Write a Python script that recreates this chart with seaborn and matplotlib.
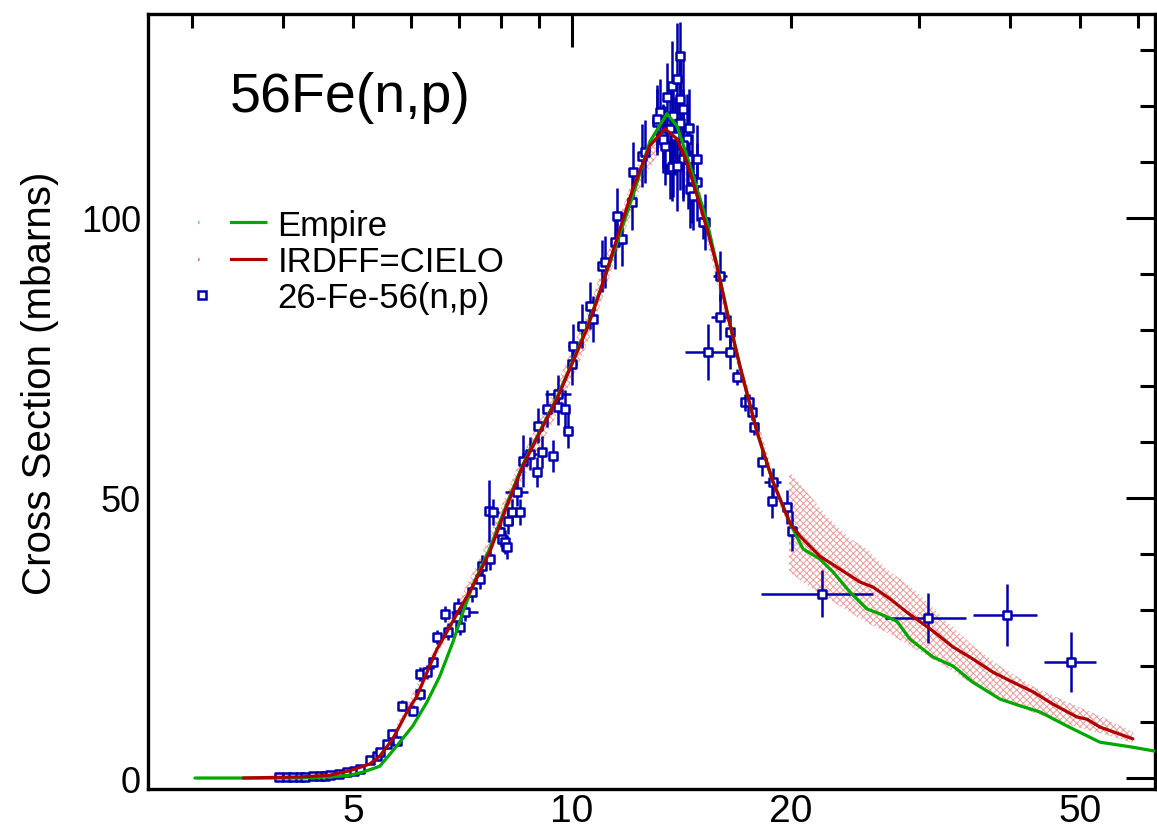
import numpy as np
import pandas as pd
import matplotlib
matplotlib.use('Agg')
import matplotlib.pyplot as plt
import seaborn as sns
from matplotlib.lines import Line2D
from matplotlib.legend_handler import HandlerLine2D
from matplotlib.ticker import FixedLocator, FuncFormatter, NullFormatter

# ---------------- data ----------------
# IRDFF=CIELO evaluation (MeV, mb)
irdff_E = [3.53, 4.23, 4.64, 4.95, 5.27, 5.44, 5.67, 5.93, 6.12, 6.32, 6.52, 6.73, 7.01,
           7.31, 7.71, 8.14, 8.56, 9.04, 9.54, 10.03, 10.49, 10.93, 11.53, 12.13, 12.80,
           13.43, 13.95, 14.39, 14.86, 15.34, 15.83, 16.34, 17.02, 17.97, 18.90, 19.95,
           20.59, 21.93, 23.37, 24.90, 25.94, 27.38, 28.89, 31.38, 33.43, 35.61, 37.94,
           40.43, 43.07, 45.88, 49.51, 51.1, 53.24, 59.1]
irdff_xs = [0, 0.2, 0.5, 1.3, 2.5, 3.9, 7.0, 11.8, 14.6, 18.9, 23.0, 26.1, 30.2,
            34.3, 40.4, 48.6, 55.7, 61.8, 67.7, 74.3, 80.2, 86.8, 96.25, 105.2, 112.9,
            115.9, 114.1, 110.0, 104.0, 98.0, 91.4, 83.2, 73.6, 61.8, 52.9, 45.5,
            43.2, 39.6, 37.3, 35.0, 34.1, 32.0, 29.6, 26.25, 23.4, 21.25, 18.9,
            17.1, 15.4, 13.2, 10.9, 10.5, 9.1, 7.0]

# Empire calculation
empire_E = [3.03, 4.23, 4.65, 4.95, 5.16, 5.44, 5.74, 6.04, 6.32, 6.58, 6.86, 7.08, 7.31,
            7.71, 8.14, 8.56, 9.04, 9.54, 10.03, 10.49, 10.93, 11.53, 12.13, 12.80, 13.51,
            13.95, 14.39, 14.86, 15.34, 15.83, 16.34, 17.02, 17.97, 18.90, 19.95, 20.79,
            21.93, 22.86, 24.12, 25.45, 26.53, 27.99, 29.17, 31.38, 33.43, 35.61, 38.79,
            41.33, 44.03, 47.96, 53.24, 59.1, 63.4]
empire_xs = [0, 0, 0.2, 0.5, 1.07, 2.1, 5.7, 9.3, 13.6, 18.2, 24.3, 29.6, 34.5,
             41.0, 49.0, 56.0, 62.0, 68.0, 74.5, 80.5, 87.0, 95.5, 104.0, 113.6, 118.6,
             116.4, 111.1, 105.2, 99.3, 91.6, 83.4, 73.6, 61.8, 52.9, 45.5, 40.9,
             39.1, 36.8, 33.2, 30.2, 29.3, 28.0, 24.8, 21.6, 20.0, 17.1, 14.1,
             12.9, 11.8, 9.3, 6.4, 5.5, 4.8]

# IRDFF uncertainty band
band_E = [5.5, 6.5, 7.5, 8.5, 9.5, 10.5, 11.5, 12.5, 13.4, 15.0, 17.0, 19.0, 19.85,
          19.9, 21.7, 22.4, 24.1, 25.45, 27.1, 29.6, 33.0, 35.6, 38.8, 43.07, 47.96, 53.24, 59.1]
band_lo = [4.0, 21.5, 36.3, 52.5, 64.5, 77.5, 93.0, 106.5, 113.5, 101.0, 72.0, 51.0, 45.0,
           36.8, 33.2, 32.2, 29.6, 27.7, 26.0, 23.1, 19.5, 16.7, 14.4, 11.7, 9.6, 8.0, 6.3]
band_hi = [4.6, 23.5, 39.7, 57.0, 69.9, 83.0, 98.5, 111.9, 118.3, 105.0, 75.0, 53.5, 46.5,
           54.8, 49.0, 46.8, 42.8, 40.9, 37.3, 33.6, 27.6, 23.6, 20.0, 16.4, 13.6, 11.1, 8.2]

# EXFOR 26-Fe-56(n,p): energy, cross section, dE, dxs
exp_E = [3.96, 4.05, 4.13, 4.22, 4.30, 4.40, 4.50, 4.58, 4.65, 4.78, 4.90, 5.02, 5.11,
         5.27, 5.40, 5.44, 5.57, 5.65, 5.74, 5.84, 6.04, 6.18, 6.18, 6.32, 6.44, 6.52,
         6.69, 6.75, 6.95, 7.01, 7.12, 6.97, 7.29, 7.47, 7.52, 7.71, 7.69, 7.78, 7.96,
         8.01, 8.09, 8.14, 8.17, 8.27, 8.48, 8.40, 8.56, 8.75, 8.95, 9.09, 8.98, 9.42,
         9.24, 9.57, 9.78, 9.87, 9.57, 10.0, 10.03, 10.32, 10.59, 10.69, 11.0, 11.1,
         11.46, 11.72, 11.53, 12.09, 12.13, 12.48, 12.60, 13.09, 13.21, 13.34, 13.64,
         13.76, 14.21, 14.53, 14.86, 15.24, 15.98, 15.98,
         13.72, 13.94, 13.42, 13.5, 13.72, 13.94, 14.07, 14.21, 13.76, 14.39, 14.44,
         14.62, 14.67, 14.86, 13.64, 13.85, 14.07, 13.34, 13.09, 14.2, 14.5, 14.1,
         15.14, 16.50, 15.39, 16.50, 16.87, 17.30, 17.5, 17.69, 17.8, 18.25, 18.90,
         18.84, 19.76, 20.08, 22.08, 30.89, 39.66, 48.58]
exp_xs = [0.1, 0.1, 0.15, 0.15, 0.2, 0.3, 0.4, 0.4, 0.5, 0.8, 1.0, 1.2, 1.6,
          3.2, 4.0, 4.6, 6.0, 7.9, 6.6, 12.9, 12.0, 15.0, 18.6, 18.9, 20.7, 25.2,
          29.3, 26.1, 28.8, 27.0, 29.6, 30.5, 33.2, 35.5, 37.9, 39.1, 47.7, 47.5, 43.9,
          42.7, 42.1, 41.25, 45.9, 47.5, 47.5, 51.1, 56.6, 57.9, 54.6, 58.2, 62.9, 57.5,
          65.9, 66.25, 65.9, 62.0, 68.6, 73.9, 77.1, 80.7, 84.3, 82.0, 91.4, 92.1,
          95.7, 96.25, 100.4, 102.9, 108.2, 111.1, 111.8, 117.1, 118.9, 114.6, 108.75,
          109.3, 110.5, 105.2, 106.4, 99.3, 89.6, 82.3,
          109.1, 109.3, 112.9, 121.6, 123.6, 124.8, 121.25, 119.5, 118.2, 114.1, 110.5,
          107.0, 103.9, 110.5, 115.9, 114.6, 128.9, 114.1, 117.7, 113.0, 116.0, 117.0,
          99.3, 79.6, 76.1, 76.1, 71.6, 67.1, 67.1, 65.4, 62.7, 56.4, 52.9,
          49.5, 48.4, 44.1, 32.9, 28.6, 29.1, 20.7]
exp_dE = [0.05] * 19 + [0.08] * 10 + [0.08, 0.3, 0.1, 0.1, 0.1, 0.1, 0.1, 0.1, 0.15, 0.1, 0.1,
          0.1, 0.1, 0.1, 0.1, 0.1, 0.3, 0.1, 0.2, 0.1, 0.1, 0.1, 0.1, 0.15,
          0.15, 0.15, 0.15, 0.4, 0.15, 0.15, 0.15, 0.15, 0.15, 0.15, 0.15, 0.15,
          0.15, 0.15, 0.15, 0.15, 0.15, 0.15, 0.1, 0.1, 0.1, 0.1,
          0.1, 0.1, 0.1, 0.1, 0.1, 0.37, 0.45] + [0.05] * 22 + [
          0.1, 0.1, 1.1, 0.15, 0.1, 0.1, 0.1, 0.1, 0.1, 0.15, 0.5,
          0.2, 0.2, 0.1, 3.9, 3.9, 4.0, 4.0]
exp_dxs = [0.3] * 10 + [0.4, 0.4, 0.5, 0.6, 0.7, 0.7, 0.8, 0.9, 0.8, 1.0, 1.0, 1.0, 1.2,
           1.2, 1.3, 1.3, 1.5, 1.5, 1.5, 1.5, 1.6, 1.6, 1.7, 1.8, 1.9, 2.0, 5.5, 2.4, 2.2,
           2.1, 2.1, 2.1, 2.3, 2.4, 2.4, 2.6, 4.7, 2.9, 2.7, 2.9, 3.1, 2.9,
           3.3, 3.3, 3.3, 3.1, 3.4, 3.7, 3.9, 4.0, 4.2, 4.1, 4.6, 4.6,
           4.8, 4.8, 5.0, 5.1, 5.4, 5.6, 5.6, 5.9, 5.9, 5.7, 5.4,
           5.5, 7.0, 7.0, 7.0, 5.0, 4.5, 4.1,
           6, 8, 7, 6, 8, 10, 8, 9, 7, 8, 9,
           8, 6, 6, 7, 7, 6, 6, 6, 10, 7, 12,
           3, 3, 5, 3, 1.5, 1.5, 1.5, 1.5, 1.5, 2.5, 2.5,
           3, 3, 3.5, 4.2, 4.5, 5.5, 5.3]

title_text = "56Fe(n,p)"
ylabel_text = "Cross Section (mbarns)"
legend_labels = ["Empire", "IRDFF=CIELO", "26-Fe-56(n,p)"]
x_major = [10]
x_minor = [3, 4, 5, 6, 7, 8, 9, 20, 30, 40, 50, 60]
x_labeled = [5, 10, 20, 50]
y_major = [0, 50, 100]
y_minor = [10, 20, 30, 40, 60, 70, 80, 90, 110, 120, 130]

GREEN = "#00a800"
RED = "#b00000"
BLUE = "#0000b0"
BAND = "#f09a9a"

# ---------------- plot ----------------
sns.set_style("white")
plt.rcParams['font.family'] = ['Liberation Sans', 'DejaVu Sans']
plt.rcParams['hatch.linewidth'] = 0.7
plt.rcParams['text.color'] = 'black'
plt.rcParams['axes.labelcolor'] = 'black'
plt.rcParams['xtick.color'] = 'black'
plt.rcParams['ytick.color'] = 'black'

fig = plt.figure(figsize=(11.57, 8.29), dpi=100)
ax = fig.add_axes([148 / 1157, 1 - 790 / 829, 1007 / 1157, 775 / 829])

df_emp = pd.DataFrame({"E": empire_E, "xs": empire_xs})
df_ird = pd.DataFrame({"E": irdff_E, "xs": irdff_xs})
df_exp = pd.DataFrame({"E": exp_E, "xs": exp_xs, "dE": exp_dE, "dxs": exp_dxs})

# uncertainty band
bE = np.array(band_E)
split = 13
ax.fill_between(bE[:split], band_lo[:split], band_hi[:split], facecolor='none',
                edgecolor=BAND, hatch='xxxxx', linewidth=0, zorder=1)
ax.fill_between(bE[split:], band_lo[split:], band_hi[split:], facecolor='none',
                edgecolor=BAND, hatch='xxxxx', linewidth=0, zorder=1)

# experimental data
ax.errorbar(df_exp["E"], df_exp["xs"], xerr=df_exp["dE"], yerr=df_exp["dxs"], fmt='none',
            ecolor=BLUE, elinewidth=1.8, capsize=0, zorder=2)
sns.scatterplot(data=df_exp, x="E", y="xs", marker='s', s=34, facecolor='white',
                edgecolor=BLUE, linewidth=1.8, ax=ax, zorder=3, legend=False)

# curves
sns.lineplot(data=df_emp, x="E", y="xs", color=GREEN, lw=2.3, ax=ax, sort=False,
             estimator=None, zorder=4)
sns.lineplot(data=df_ird, x="E", y="xs", color=RED, lw=2.3, ax=ax, sort=False,
             estimator=None, zorder=5)

ax.set_xscale('log')
ax.set_xlim(2.611, 63.4)
ax.set_ylim(-1.96, 136.4)

ax.xaxis.set_major_locator(FixedLocator(x_major))
ax.xaxis.set_minor_locator(FixedLocator(x_minor))
ax.xaxis.set_major_formatter(FuncFormatter(lambda v, p: f"{v:g}" if round(v) in x_labeled else ""))
ax.xaxis.set_minor_formatter(FuncFormatter(lambda v, p: f"{v:g}" if round(v) in x_labeled else ""))
ax.yaxis.set_major_locator(FixedLocator(y_major))
ax.yaxis.set_minor_locator(FixedLocator(y_minor))
ax.yaxis.set_minor_formatter(NullFormatter())

ax.tick_params(which='both', direction='in', top=True, right=True, width=2.2,
               colors='black', labelcolor='black')
ax.tick_params(axis='x', which='major', length=24, labelsize=28, pad=3)
ax.tick_params(axis='x', which='minor', length=10, labelsize=28, pad=3)
ax.tick_params(axis='y', which='major', length=21, labelsize=26, pad=5)
ax.tick_params(axis='y', which='minor', length=11)
for sp in ax.spines.values():
    sp.set_linewidth(2.4)
    sp.set_color('black')

ax.set_xlabel("")
ax.set_ylabel(ylabel_text, fontsize=29, color='black')
ax.yaxis.set_label_coords(-0.088, 0.525)

ax.text(0.081, 0.875, title_text, transform=ax.transAxes, fontsize=40,
        ha='left', va='baseline', color='black')

# legend
h_emp = Line2D([], [], color=GREEN, lw=2.3, linestyle=(0, (0.25, 9.6, 12.8, 20)))
h_ird = Line2D([], [], color=RED, lw=2.3, linestyle=(0, (0.25, 9.6, 12.8, 20)))
h_exp = Line2D([], [], ls='none', marker='s', ms=5.8, mfc='white', mec=BLUE, mew=1.8)


class LeftMarkerHandler(HandlerLine2D):
    def get_xdata(self, legend, xdescent, ydescent, width, height, fontsize):
        # the single marker sits in the middle of the returned span
        return [-xdescent, -xdescent + 0.12 * width], [-xdescent + 0.06 * width]


leg = ax.legend([h_emp, h_ird, h_exp], legend_labels, loc='upper left',
                bbox_to_anchor=(0.0496, 0.749), frameon=False, fontsize=25,
                handlelength=2.0, handletextpad=0.29, labelspacing=0.1,
                borderpad=0, borderaxespad=0, labelcolor='black',
                handler_map={h_exp: LeftMarkerHandler()})

fig.savefig("out.png", dpi=100)
